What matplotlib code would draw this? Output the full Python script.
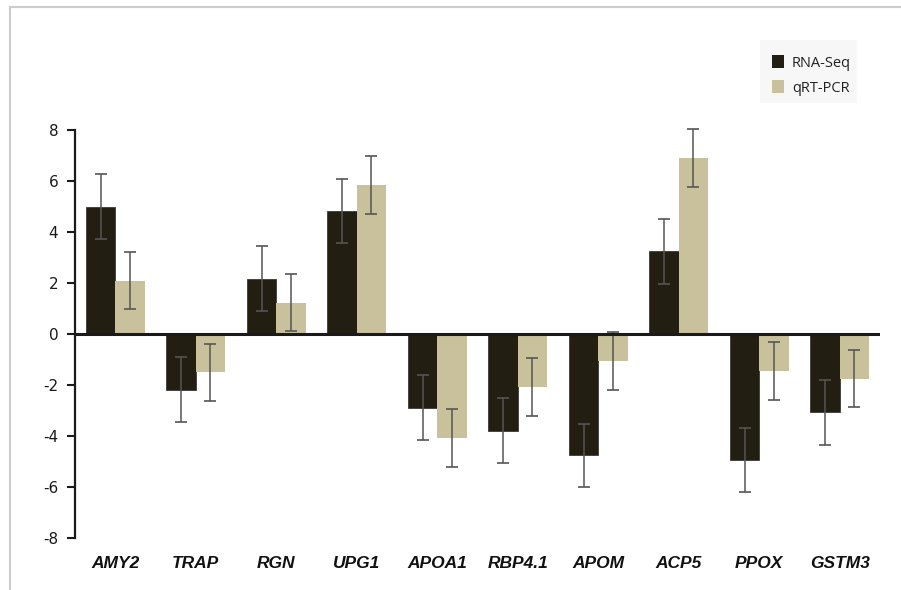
import matplotlib
matplotlib.use("Agg")
import matplotlib.pyplot as plt
from matplotlib.lines import Line2D
from matplotlib.patches import Rectangle
import numpy as np

genes = ["AMY2", "TRAP", "RGN", "UPG1", "APOA1", "RBP4.1", "APOM", "ACP5", "PPOX", "GSTM3"]
rnaseq = [5.0, -2.18, 2.18, 4.82, -2.88, -3.78, -4.75, 3.24, -4.93, -3.07]
rnaseq_err = [1.28, 1.27, 1.28, 1.25, 1.27, 1.26, 1.24, 1.26, 1.27, 1.28]
qrtpcr = [2.1, -1.5, 1.24, 5.84, -4.07, -2.07, -1.05, 6.9, -1.45, -1.74]
qrtpcr_err = [1.13, 1.13, 1.13, 1.13, 1.13, 1.13, 1.13, 1.13, 1.13, 1.13]
yticks = [-8, -6, -4, -2, 0, 2, 4, 6, 8]

c_rna = "#221e12"
c_qrt = "#c8c19b"

fig = plt.figure(figsize=(9.01, 5.90), dpi=100)
ax = fig.add_axes([75/901, 1-538.3/590, 805/901, 408.3/590])

x = np.arange(len(genes))
w = 0.366
ax.bar(x - w/2, rnaseq, w, color=c_rna, edgecolor="#3a3a34", linewidth=0.6, zorder=2)
ax.bar(x + w/2, qrtpcr, w, color=c_qrt, edgecolor="none", zorder=2)
for xs, vals, errs in [(x - w/2, rnaseq, rnaseq_err), (x + w/2, qrtpcr, qrtpcr_err)]:
    cont = ax.errorbar(xs, vals, yerr=errs, fmt="none", ecolor="#555555",
                       elinewidth=1.1, capsize=4, capthick=1.2, zorder=3)
    for art in cont.get_children():
        art.set_clip_on(False)

ax.axhline(0, color="#1a1a1a", linewidth=2.2, zorder=4)

ax.set_xlim(-0.5, len(genes) - 0.5)
ax.set_ylim(-8, 8)
ax.set_yticks(yticks)
ax.set_yticklabels([str(t) for t in yticks], fontsize=11, color="#1a1a1a", family="DejaVu Sans")
ax.set_xticks(x)
ax.set_xticklabels(genes, fontsize=12.5, fontweight="bold", fontstyle="italic",
                   family="Liberation Sans", color="#111111")
ax.tick_params(axis="x", length=0, pad=13)
ax.tick_params(axis="y", length=6, width=1.5, color="#1a1a1a", pad=6)
for s in ["top", "right", "bottom"]:
    ax.spines[s].set_visible(False)
ax.spines["left"].set_linewidth(1.6)
ax.spines["left"].set_color("#1a1a1a")
ax.patch.set_alpha(0)

# legend
fig.patches.append(Rectangle((760/901, 1-103/590), 97/901, 63/590, transform=fig.transFigure,
                             facecolor="#f7f7f7", edgecolor="none", zorder=0))
handles = [Rectangle((0, 0), 1, 1, facecolor=c_rna, edgecolor="none"),
           Rectangle((0, 0), 1, 1, facecolor=c_qrt, edgecolor="none")]
leg = fig.legend(handles, ["RNA-Seq", "qRT-PCR"], loc="upper left",
                 bbox_to_anchor=(762/901, 1-45/590), frameon=False,
                 prop={"family": "Open Sans", "size": 10.5}, handlelength=0.8,
                 handleheight=1.0, handletextpad=0.55, labelspacing=0.65, borderpad=0.2)
for t in leg.get_texts():
    t.set_color("#222222")

# outer frame lines (left and top)
fig.add_artist(Line2D([10/901, 10/901], [0, 1-7/590], transform=fig.transFigure, color="#cccccc", linewidth=1.5))
fig.add_artist(Line2D([10/901, 1], [1-7/590, 1-7/590], transform=fig.transFigure, color="#cccccc", linewidth=1.5))

fig.savefig("out.png", dpi=100)
